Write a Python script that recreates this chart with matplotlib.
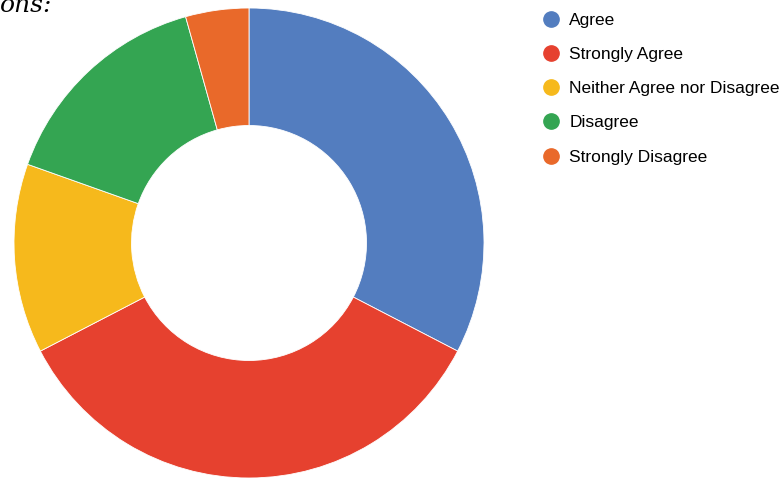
import matplotlib.pyplot as plt
from matplotlib.lines import Line2D

labels = ["Agree", "Strongly Agree", "Neither Agree nor Disagree", "Disagree", "Strongly Disagree"]
counts = [15, 16, 6, 7, 2]
colors = ["#537dbf", "#e6412f", "#f6b91c", "#34a552", "#e9692a"]

plt.rcParams["font.family"] = ["Liberation Sans", "DejaVu Sans"]

fig = plt.figure(figsize=(7.83, 4.79), dpi=100)
ax = fig.add_axes([14 / 783, 1 / 479, 470 / 783, 470 / 479])
ax.pie(counts, colors=colors, startangle=90, counterclock=False,
       wedgeprops=dict(width=0.5, edgecolor="white", linewidth=0.6))
ax.set_aspect("equal")
ax.set_xlim(-1, 1)
ax.set_ylim(-1, 1)

handles = [Line2D([], [], marker="o", linestyle="", markersize=11,
                  markerfacecolor=c, markeredgecolor=c) for c in colors]
fig.legend(handles, labels, loc="upper left", bbox_to_anchor=(528 / 783, 1.0),
           frameon=False, fontsize=12.5, labelspacing=1.1, handletextpad=0.45,
           handlelength=1.2, borderaxespad=0.32)

# clipped caption fragment from the source page
fig.text(0.0, 1.012, "ons:", fontsize=18, family="DejaVu Serif", style="italic",
         va="top", ha="left")

fig.savefig("out.png", dpi=100)
